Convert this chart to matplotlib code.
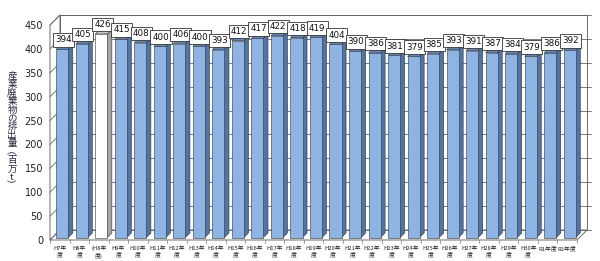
import matplotlib
matplotlib.use("Agg")
import matplotlib.pyplot as plt
from matplotlib.patches import Polygon
from matplotlib.lines import Line2D
from matplotlib.transforms import IdentityTransform

plt.rcParams['font.family'] = ['DejaVu Sans']

categories = ["H7年\n度", "H8年\n度", "(H8年\n度)", "H9年\n度", "H10年\n度", "H11年\n度", "H12年\n度",
              "H13年\n度", "H14年\n度", "H15年\n度", "H16年\n度", "H17年\n度", "H18年\n度", "H19年\n度",
              "H20年\n度", "H21年\n度", "H22年\n度", "H23年\n度", "H24年\n度", "H25年\n度", "H26年\n度",
              "H27年\n度", "H28年\n度", "H29年\n度", "H30年\n度", "R1年度", "R2年度"]
values = [394, 405, 426, 415, 408, 400, 406, 400, 393, 412, 417, 422, 418, 419, 404,
          390, 386, 381, 379, 385, 393, 391, 387, 384, 379, 386, 392]
yticks = [0, 50, 100, 150, 200, 250, 300, 350, 400, 450]
ylabel = "産業廃棄物の排出量︵百万t︶"

W, H = 600, 261
fig = plt.figure(figsize=(W / 100, H / 100), dpi=100)
L, R, B, T = 50, 577, 261 - 240, 261 - 25
ax = fig.add_axes([L / W, B / H, (R - L) / W, (T - B) / H])
ax.set_zorder(5)
n = len(values)
ax.set_xlim(-0.5, n - 0.5)
ax.set_ylim(0, 450)
for s in ax.spines.values():
    s.set_visible(False)
ax.set_yticks(yticks)
ax.set_yticklabels([str(t) for t in yticks], fontsize=7, color='#222222')
ax.tick_params(axis='y', length=0, pad=5)
ax.set_xticks(range(n))
ax.set_xticklabels(categories, fontsize=4.2, color='#222222',
                   family=['Noto Sans CJK JP', 'DejaVu Sans'], linespacing=1.3)
ax.tick_params(axis='x', length=0, pad=4)
ax.patch.set_visible(False)

fig.text(12 / W, 1 - 131 / H, "\n".join(ylabel), family=['Noto Sans CJK JP', 'DejaVu Sans'],
         fontsize=6.8, color='#2a2a40', ha='center', va='center', linespacing=0.92)

ID = IdentityTransform()
DX, DY = 10, 10
tr = ax.transData


def px(x, y):
    return tr.transform((x, y))


def line(p, q, color='#777777', lw=0.6, z=0.5):
    fig.add_artist(Line2D([p[0], q[0]], [p[1], q[1]], transform=ID, color=color, lw=lw, zorder=z))


def poly(pts, fc, ec='#333333', lw=0.4, z=2):
    fig.add_artist(Polygon(pts, closed=True, transform=ID, facecolor=fc, edgecolor=ec, lw=lw, zorder=z))


x0 = px(-0.5, 0)[0]
x1 = px(n - 0.5, 0)[0]
ytop = px(0, 450)[1]
ybot = px(0, 0)[1]

# back wall and left wall
poly([(x0 + DX, ybot + DY), (x1 + DX, ybot + DY), (x1 + DX, ytop + DY), (x0 + DX, ytop + DY)],
     'white', ec='#555555', lw=0.6, z=0.3)
poly([(x0, ybot), (x0 + DX, ybot + DY), (x0 + DX, ytop + DY), (x0, ytop)],
     'white', ec='#555555', lw=0.6, z=0.3)
for t in yticks:
    y = px(0, t)[1]
    line((x0 + DX, y + DY), (x1 + DX, y + DY), color='#666666', lw=0.6)
    line((x0, y), (x0 + DX, y + DY), color='#666666', lw=0.6)
    line((x1 + DX, y + DY), (x1 + DX + 4, y + DY), color='#666666', lw=0.6)
# floor
poly([(x0, ybot), (x1, ybot), (x1 + DX, ybot + DY), (x0 + DX, ybot + DY)],
     'white', ec='#555555', lw=0.6, z=0.4)
for i in range(n + 1):
    xx = px(i - 0.5, 0)[0]
    line((xx, ybot), (xx, ybot - 3), color='#777777', lw=0.5)

# bars
bw = 0.62
SX, SY = 2.5, 2.5
D = 4.5
for i, v in enumerate(values):
    special = (i == 2)
    fc = 'white' if special else '#8DB4E2'
    sc = '#A6A6A6' if special else '#4F74A8'
    tc = '#C8C8C8' if special else '#5F84B8'
    xl, yb = px(i - bw / 2, 0)
    xr, yt = px(i + bw / 2, v)
    xl += SX; xr += SX; yb += SY; yt += SY
    poly([(xr, yb), (xr + D, yb + D), (xr + D, yt + D), (xr, yt)], sc, z=2)
    poly([(xl, yt), (xr, yt), (xr + D, yt + D), (xl + D, yt + D)], tc, z=2)
    poly([(xl, yb), (xr, yb), (xr, yt), (xl, yt)], fc, z=2.1)
    ax.annotate(str(v), xy=(i, v), xytext=(2.6, 8.5), textcoords='offset points',
                ha='center', va='center', fontsize=6.3, color='#111111', zorder=5,
                annotation_clip=False,
                bbox=dict(boxstyle='square,pad=0.25', fc='white', ec='#333333', lw=0.6))

fig.savefig("out.png", dpi=100)
